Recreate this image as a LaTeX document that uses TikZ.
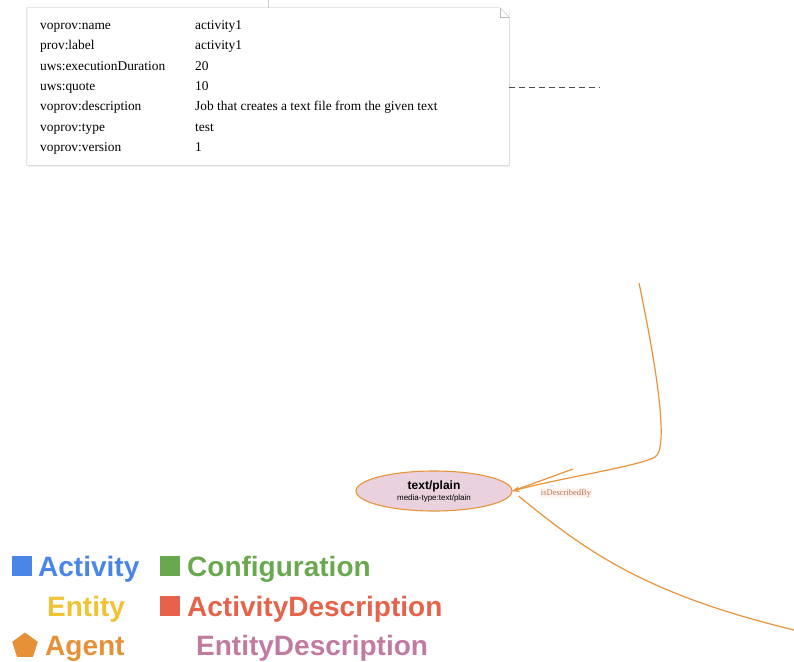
\documentclass[tikz,border=0pt]{standalone}
\usepackage{fontspec}
\setmainfont{Liberation Serif}
\newfontfamily\legendfont{Liberation Sans}
\usetikzlibrary{arrows.meta,shapes.geometric,shadows}

\definecolor{edgeorange}{HTML}{E8923A}
\definecolor{descpink}{HTML}{E9D2DD}
\definecolor{actblue}{HTML}{4A86E8}
\definecolor{confgreen}{HTML}{6AA84F}
\definecolor{entyellow}{HTML}{F1C232}
\definecolor{actdescred}{HTML}{E5634A}
\definecolor{agentorange}{HTML}{E69138}
\definecolor{entdescpink}{HTML}{C27BA0}
\definecolor{labelred}{HTML}{C8704E}

\begin{document}
\begin{tikzpicture}[x=1pt, y=-1pt,
        note/.style={rectangle, fill=white, inner sep=0, minimum width=482pt, minimum height=157pt,
            drop shadow={opacity=0.12, shadow xshift=1pt, shadow yshift=-1.5pt}},
        noteline/.style={draw=gray!55},
        key/.style={anchor=base west, inner sep=0, font=\fontsize{13.4}{15}\selectfont},
        mediatype/.style={ellipse, draw=edgeorange, line width=1.1pt, fill=descpink, inner sep=0,
            minimum width=156pt, minimum height=40pt, align=center, font=\legendfont},
        edge/.style={draw=edgeorange, line width=1.2pt},
        arrow/.style={edge, -{Stealth[length=7pt, width=6pt]}},
        elabel/.style={fill=labelred!8, inner sep=1pt, text=labelred,
            font=\fontsize{8.5}{10}\selectfont},
        legbox/.style={rectangle, inner sep=0, minimum size=20pt},
        legtext/.style={anchor=base west, inner sep=0,
            font=\legendfont\bfseries\fontsize{28}{30}\selectfont}
    ]
        \useasboundingbox (0,0) rectangle (794,661);

        % Description note
        \draw[gray!40] (268,0) -- (268,8);
        \node[note] (desc) at (268,86.5) {};
        \draw[noteline] (desc.north west) -- ([xshift=-9pt]desc.north east)
            -- ([yshift=-9pt]desc.north east) -- (desc.south east) -- (desc.south west) -- cycle;
        \draw[noteline] ([xshift=-9pt]desc.north east) -- ([xshift=-9pt, yshift=-9pt]desc.north east)
            -- ([yshift=-9pt]desc.north east);
        \foreach \k/\v [count=\i from 0] in {voprov:name/activity1, prov:label/activity1,
            uws:executionDuration/20, uws:quote/10,
            voprov:description/Job that creates a text file from the given text,
            voprov:type/test, voprov:version/1} {
            \node[key] (k\i) at (40,29.5+20.3*\i) {\k};
            \node[key] (v\i) at (195,29.5+20.3*\i) {\v};
        }
        \coordinate (dashend) at (600,87);
        \draw[gray!60!black, dash pattern=on 6pt off 4pt] (desc.east |- dashend) -- (dashend);

        % Entity description
        \node[mediatype] (tp) at (434,491) {\fontsize{12}{12}\selectfont\bfseries text/plain\\[-1pt]
            \fontsize{8}{9}\selectfont media-type:text/plain};

        \coordinate (topin) at (639,283);
        \coordinate (midin) at (573,469);
        \coordinate (lowout) at (794,630);
        \draw[arrow] (topin) .. controls (655,360) and (670,448) .. (655,457)
            .. controls (640,466) and (560,478) .. (tp.east);
        \draw[edge] (midin) -- (tp.east);
        \draw[edge, shorten <=8pt] (tp.east) .. controls (590,555) and (650,595) .. (lowout);
        \node[elabel] (lbl) at (566,493) {isDescribedBy};

        % Legend
        \node[legbox, fill=actblue] (actbox) at (22,566) {};
        \node[legtext, text=actblue] (actlbl) at (38,576) {Activity};
        \node[legbox, fill=confgreen] (confbox) at (170,566) {};
        \node[legtext, text=confgreen] (conflbl) at (187,576) {Configuration};
        \node[legtext, text=entyellow] (entlbl) at (47,616) {Entity};
        \node[legbox, fill=actdescred] (actdescbox) at (170,606) {};
        \node[legtext, text=actdescred] (actdesclbl) at (187,616) {ActivityDescription};
        \node[regular polygon, regular polygon sides=5, fill=agentorange, inner sep=0,
            minimum size=27pt] (agentbox) at (25,646) {};
        \node[legtext, text=agentorange] (agentlbl) at (45,655) {Agent};
        \node[legtext, text=entdescpink] (entdesclbl) at (196,655) {EntityDescription};
    \end{tikzpicture}
\end{document}
